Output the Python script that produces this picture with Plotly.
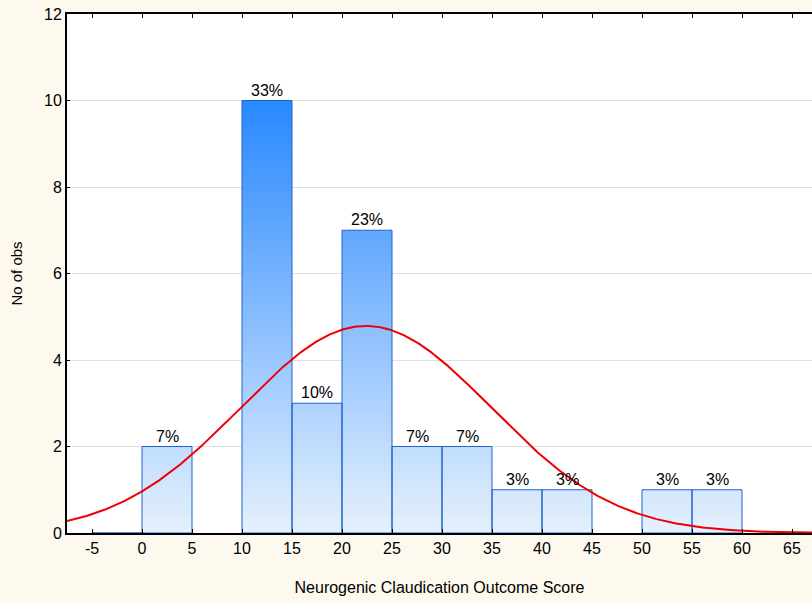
import numpy as np
import plotly.graph_objects as go

# ---- data ----
bin_left = [-5, 0, 5, 10, 15, 20, 25, 30, 35, 40, 45, 50, 55]
counts = [0, 2, 0, 10, 3, 7, 2, 2, 1, 1, 0, 1, 1]
bin_width = 5
fit_mean = 22.4
fit_sd = 12.5
x_ticks = list(range(-5, 70, 5))
x_tick_labels = [str(v) for v in x_ticks]
y_ticks = [0, 2, 4, 6, 8, 10, 12]
x_title = "Neurogenic Claudication Outcome Score"
y_title = "No of obs"

total = sum(counts)

# polygons for bars (gradient fill)
px, py = [], []
for left, c in zip(bin_left, counts):
    if c == 0 and left != -5:
        continue
    r = left + bin_width
    px += [left, left, r, r, left, None]
    py += [0, c, c, 0, 0, None]

fig = go.Figure()
fig.add_trace(go.Scatter(
    x=px, y=py, mode="lines", fill="toself",
    line=dict(color="#2060D0", width=1),
    fillgradient=dict(type="vertical",
                      colorscale=[[0, "#E6F1FD"], [1, "#2888FF"]],
                      start=0, stop=10),
    hoverinfo="skip", showlegend=False,
))

# fitted normal curve
xc = np.linspace(-7.5, 70, 800)
yc = total * bin_width / (fit_sd * np.sqrt(2 * np.pi)) * np.exp(-0.5 * ((xc - fit_mean) / fit_sd) ** 2)
fig.add_trace(go.Scatter(x=xc, y=yc, mode="lines",
                         line=dict(color="#EE0000", width=2),
                         showlegend=False, hoverinfo="skip"))

# percent labels
for left, c in zip(bin_left, counts):
    if c > 0:
        fig.add_annotation(x=left + bin_width / 2, y=c, text=f"{round(100 * c / total)}%",
                           showarrow=False, yanchor="bottom", yshift=0,
                           font=dict(family="Liberation Sans, Arial", size=16, color="#000"))

font = dict(family="Liberation Sans, Arial", size=16, color="#000")
fig.update_layout(
    width=812, height=603,
    margin=dict(l=67, r=0, t=14, b=70),
    paper_bgcolor="#FDF9EE",
    plot_bgcolor="#FFFFFF",
    font=font,
    xaxis=dict(range=[-7.5, 67], tickvals=x_ticks, ticktext=x_tick_labels,
               ticks="inside", ticklen=4,
               tickcolor="#000", showline=True, linecolor="#000", linewidth=2,
               mirror="ticks", showgrid=False, zeroline=False,
               title=dict(text=x_title, font=dict(size=16), standoff=26),
               tickfont=dict(size=16)),
    yaxis=dict(range=[0, 12], tickvals=y_ticks, ticks="inside", ticklen=3,
               tickcolor="#000", showline=True, linecolor="#000", linewidth=2,
               showgrid=True, gridcolor="#E0E0E0", gridwidth=1, zeroline=False,
               title=dict(text=y_title, font=dict(size=15), standoff=18),
               tickfont=dict(size=16)),
)

fig.write_html("out.html")
